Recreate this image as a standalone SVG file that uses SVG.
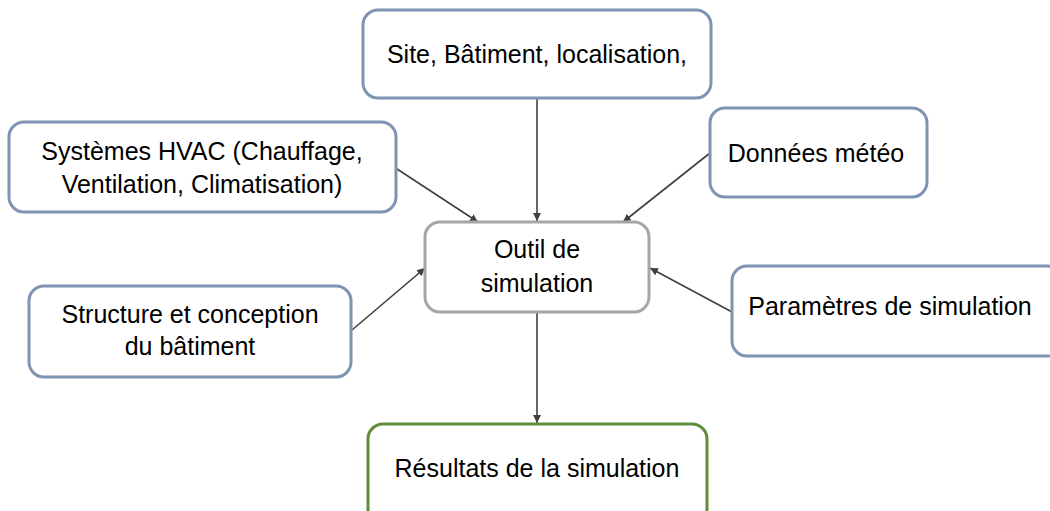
<svg xmlns="http://www.w3.org/2000/svg" width="1050" height="511" viewBox="0 0 1050 511">
<defs>
<style>
.box{fill:#ffffff;stroke:#7f93b2;stroke-width:3}
.gray{stroke:#a6a6a6}
.green{stroke:#5f8d3c}
.t{font-family:"Liberation Sans",Arial,sans-serif;font-size:25px;fill:#000000;text-anchor:middle}
.c{stroke:#404040;stroke-width:1.6;fill:none;marker-end:url(#ah)}
</style>
<marker id="ah" viewBox="0 0 10 10" refX="10" refY="5" markerWidth="8" markerHeight="8" markerUnits="userSpaceOnUse" orient="auto">
<path d="M0,0 L10,5 L0,10 z" fill="#404040"/>
</marker>
</defs>
<rect width="1050" height="511" fill="#ffffff"/>
<g id="connectors">
<line class="c" x1="537" y1="98" x2="537" y2="221"/>
<line class="c" x1="394" y1="167" x2="478" y2="222"/>
<line class="c" x1="710" y1="153" x2="623" y2="222"/>
<line class="c" x1="352" y1="330" x2="425" y2="268"/>
<line class="c" x1="732" y1="312" x2="650" y2="268"/>
<line class="c" x1="537" y1="313" x2="537" y2="423"/>
</g>
<g id="site">
<rect class="box" x="363" y="10" width="348" height="88" rx="15"/>
<text class="t" x="537" y="63">Site, Bâtiment, localisation,</text>
</g>
<g id="hvac">
<rect class="box" x="9" y="122" width="387" height="90" rx="15"/>
<text class="t" x="202" y="160">Systèmes HVAC (Chauffage,</text>
<text class="t" x="202" y="193">Ventilation, Climatisation)</text>
</g>
<g id="meteo">
<rect class="box" x="710" y="108" width="217" height="89" rx="15"/>
<text class="t" x="816" y="162">Données météo</text>
</g>
<g id="outil">
<rect class="box gray" x="425" y="222" width="224" height="90" rx="15"/>
<text class="t" x="537" y="258">Outil de</text>
<text class="t" x="537" y="292">simulation</text>
</g>
<g id="structure">
<rect class="box" x="29" y="286" width="322" height="91" rx="15"/>
<text class="t" x="190" y="323">Structure et conception</text>
<text class="t" x="190" y="355">du bâtiment</text>
</g>
<g id="parametres">
<rect class="box" x="732" y="266" width="330" height="90" rx="15"/>
<text class="t" x="890" y="315">Paramètres de simulation</text>
</g>
<g id="resultats">
<rect class="box green" x="368" y="424" width="339" height="100" rx="15"/>
<text class="t" x="537" y="477">Résultats de la simulation</text>
</g>
</svg>
